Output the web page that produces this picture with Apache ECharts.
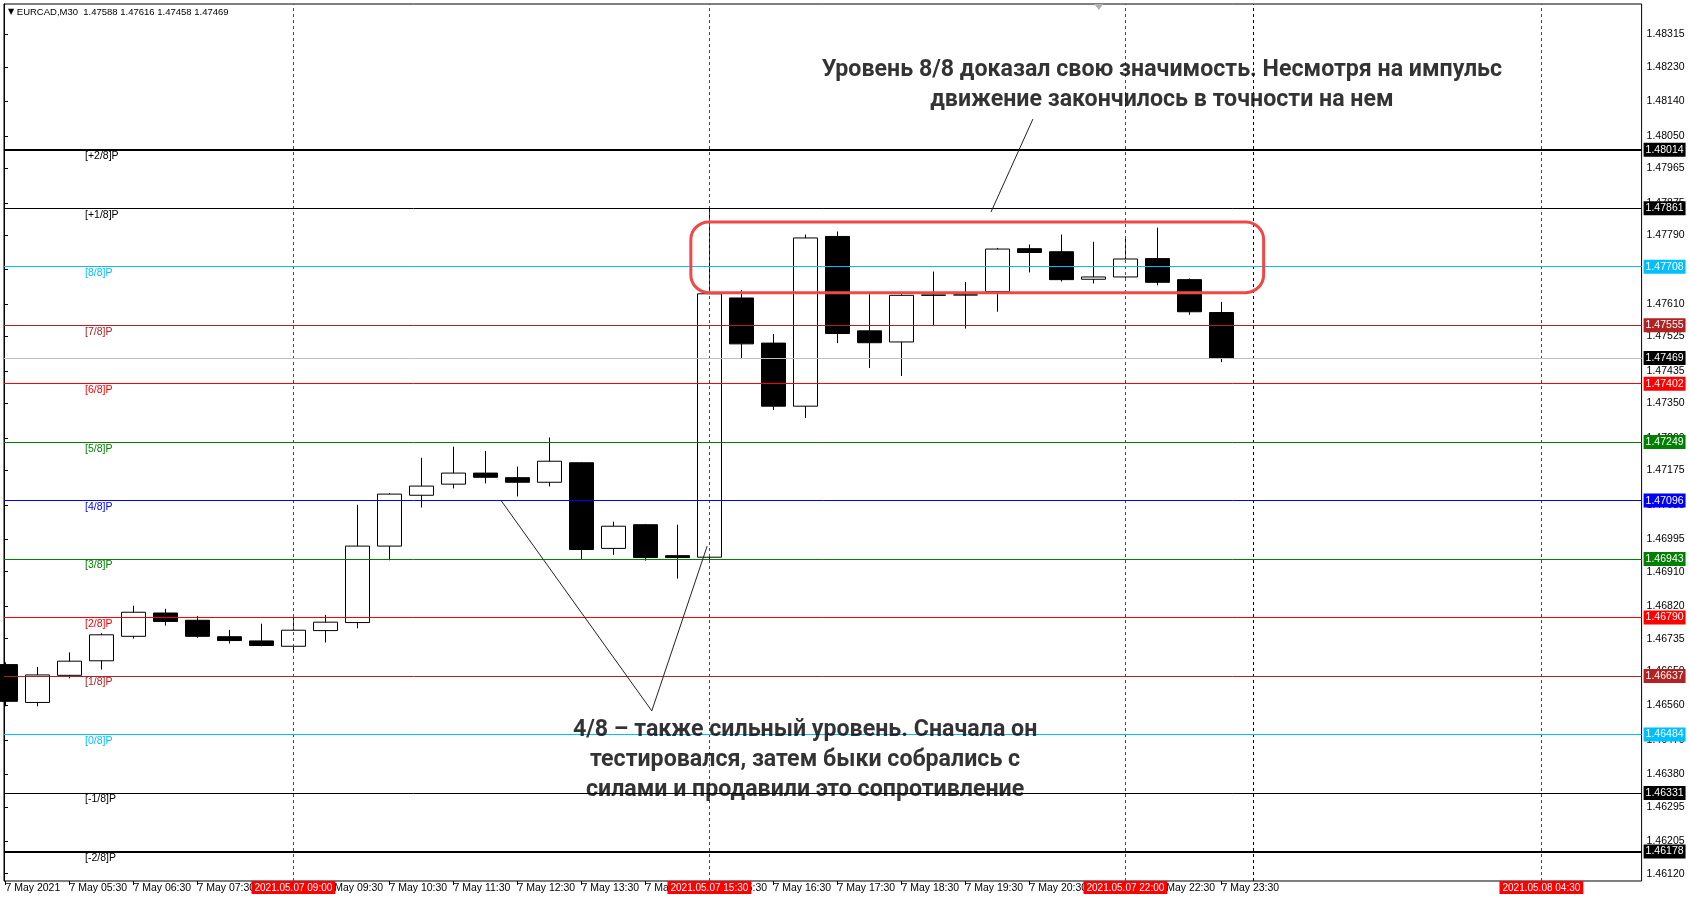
<!DOCTYPE html>
<html><head><meta charset="utf-8">
<script src="https://cdn.jsdelivr.net/npm/echarts@6/dist/echarts.min.js"></script>
<style>html,body{margin:0;padding:0;background:#fff}#c{width:1689px;height:900px}</style>
</head><body><div id="c"></div>
<script>
// ---------------- DATA ----------------
const symbol = 'EURCAD,M30';
const categories = [
 '2021.05.07 04:30','2021.05.07 05:00','2021.05.07 05:30','2021.05.07 06:00','2021.05.07 06:30','2021.05.07 07:00',
 '2021.05.07 07:30','2021.05.07 08:00','2021.05.07 08:30','2021.05.07 09:00','2021.05.07 09:30','2021.05.07 10:00',
 '2021.05.07 10:30','2021.05.07 11:00','2021.05.07 11:30','2021.05.07 12:00','2021.05.07 12:30','2021.05.07 13:00',
 '2021.05.07 13:30','2021.05.07 14:00','2021.05.07 14:30','2021.05.07 15:00','2021.05.07 15:30','2021.05.07 16:00',
 '2021.05.07 16:30','2021.05.07 17:00','2021.05.07 17:30','2021.05.07 18:00','2021.05.07 18:30','2021.05.07 19:00',
 '2021.05.07 19:30','2021.05.07 20:00','2021.05.07 20:30','2021.05.07 21:00','2021.05.07 21:30','2021.05.07 22:00',
 '2021.05.07 22:30','2021.05.07 23:00','2021.05.07 23:30','2021.05.08 00:00','2021.05.08 00:30','2021.05.08 01:00',
 '2021.05.08 01:30','2021.05.08 02:00','2021.05.08 02:30','2021.05.08 03:00','2021.05.08 03:30','2021.05.08 04:00',
 '2021.05.08 04:30','2021.05.08 05:00','2021.05.08 05:30','2021.05.08 06:00'
];
const opens  = [1.46667,1.46568,1.46639,1.46677,1.46741,1.46802,1.46783,1.46740,1.46729,1.46715,1.46756,1.46777,1.46977,
                1.47110,1.47139,1.47168,1.47156,1.47144,1.47195,1.46971,1.47033,1.46952,1.46948,1.47626,1.47508,1.47343,
                1.47787,1.47540,1.47511,1.47633,1.47634,1.47643,1.47755,1.47747,1.47675,1.47681,1.47729,1.47674,1.47588];
const closes = [1.46571,1.46640,1.46676,1.46745,1.46804,1.46780,1.46741,1.46730,1.46717,1.46757,1.46778,1.46977,1.47113,
                1.47134,1.47168,1.47157,1.47144,1.47199,1.46968,1.47029,1.46947,1.46947,1.47637,1.47506,1.47343,1.47783,
                1.47533,1.47509,1.47633,1.47634,1.47634,1.47754,1.47745,1.47674,1.47681,1.47728,1.47667,1.47590,1.47469];
const lows   = [1.46558,1.46558,1.46631,1.46654,1.46735,1.46769,1.46737,1.46722,1.46715,1.46705,1.46725,1.46762,1.46940,
                1.47078,1.47128,1.47141,1.47107,1.47133,1.46943,1.46954,1.46939,1.46892,1.46943,1.47467,1.47333,1.47312,
                1.47508,1.47443,1.47422,1.47554,1.47546,1.47590,1.47693,1.47669,1.47664,1.47672,1.47659,1.47582,1.47458];
const highs  = [1.46673,1.46661,1.46699,1.46749,1.46821,1.46813,1.46794,1.46758,1.46774,1.46794,1.46797,1.47085,1.47116,
                1.47208,1.47237,1.47226,1.47185,1.47261,1.47197,1.47041,1.47035,1.47033,1.47861,1.47647,1.47532,1.47792,
                1.47800,1.47636,1.47636,1.47695,1.47668,1.47757,1.47766,1.47792,1.47773,1.47781,1.47810,1.47677,1.47616];

const yTicks = [1.48315,1.48230,1.48140,1.48050,1.47965,1.47875,1.47790,1.47700,1.47610,1.47525,1.47435,1.47350,1.47260,
                1.47175,1.47085,1.46995,1.46910,1.46820,1.46735,1.46650,1.46560,1.46470,1.46380,1.46295,1.46205,1.46120];
const yMin = 1.46101, yMax = 1.48395;

const levelNames  = ['[+2/8]P','[+1/8]P','[8/8]P','[7/8]P','[6/8]P','[5/8]P','[4/8]P','[3/8]P','[2/8]P','[1/8]P','[0/8]P','[-1/8]P','[-2/8]P'];
const levelPrices = [1.48014,1.47861,1.47708,1.47555,1.47402,1.47249,1.47096,1.46943,1.46790,1.46637,1.46484,1.46331,1.46178];
const lastPrice = closes[closes.length - 1];

const markerTimes = ['2021.05.07 09:00','2021.05.07 15:30','2021.05.07 22:00','2021.05.08 04:30'];
const daySeparator = '2021.05.08 00:00';
const chartShiftAt = 34.17; // bar-index of the chart-shift marker

// annotations (in bar-index / price coordinates)
const noteTop = ['Уровень 8/8 доказал свою значимость. Несмотря на импульс', 'движение закончилось в точности на нем'];
const noteTopAt = [36.14, 1.48183];
const noteBottom = ['4/8 – также сильный уровень. Сначала он', 'тестировался, затем быки собрались с', 'силами и продавили это сопротивление'];
const noteBottomAt = [24.99, 1.46416];
const calloutTop = [[32.11, 1.48094], [30.80, 1.47851]];
const calloutV = [[15.50, 1.47095], [20.20, 1.46546], [21.93, 1.46977]];
const zoneBox = [21.42, 1.47825, 39.32, 1.47640];

// ---------------- STYLE ----------------
const levelColors = ['#000000','#000000','#00BFFF','#B22222','#FF0000','#008000','#0000FF','#008000','#FF0000','#B22222','#00BFFF','#000000','#000000'];
const levelWidths = [2,1,1,1,1,1,1,1,1,1,1,1,2];
const FONT = 'Liberation Sans';
const AXIS_FS = 10.5;

const candleData = opens.map((o, i) => [o, closes[i], lows[i], highs[i]]);
const lastIdx = opens.length - 1;
const showLabel = (i) => i % 2 === 0 && i <= lastIdx;

const boxLabel = (text, bg) => ({ show: true, position: 'end', formatter: text, backgroundColor: bg,
  color: '#fff', padding: [2, 2, 1, 2], fontSize: AXIS_FS, fontFamily: FONT, distance: 2 });
const levelLines = levelPrices.map((p, i) => ({
  yAxis: p,
  lineStyle: { color: levelColors[i], width: levelWidths[i], type: 'solid' },
  label: boxLabel(p.toFixed(5), levelColors[i])
}));
levelLines.push({
  yAxis: lastPrice,
  lineStyle: { color: '#C0C0C0', width: 1, type: 'solid' },
  label: boxLabel(lastPrice.toFixed(5), '#000')
});
const levelTags = levelPrices.map((p, i) => ({
  yAxis: p,
  lineStyle: { color: 'rgba(0,0,0,0)', width: 0 },
  label: { show: true, position: 'insideStartBottom', formatter: levelNames[i], color: levelColors[i],
           fontSize: AXIS_FS, fontFamily: FONT, distance: [81, 1] }
}));
const vLines = markerTimes.map(t => ({
  xAxis: t,
  lineStyle: { color: '#FF0000', width: 1, type: [3, 3] },
  label: { show: true, position: 'start', formatter: t, backgroundColor: '#FF0000', color: '#fff',
           fontSize: 10, fontFamily: FONT, padding: [2, 3, 1, 3], distance: 0 }
}));
vLines.push({ xAxis: daySeparator, lineStyle: { color: '#000', width: 1, type: [3, 3] }, label: { show: false } });

const noteLabel = {
  show: true, position: 'inside', align: 'center', verticalAlign: 'middle',
  fontSize: 23.2, lineHeight: 30, fontWeight: 'bold', fontFamily: 'Roboto', color: '#000'
};

const chart = echarts.init(document.getElementById('c'), null, { renderer: 'canvas' });
chart.setOption({
  animation: false,
  backgroundColor: '#fff',
  title: {
    left: 8, top: 7, padding: 0,
    text: '{t|▼} ' + symbol + '  ' + [opens[lastIdx], highs[lastIdx], lows[lastIdx], closes[lastIdx]].map(v => v.toFixed(5)).join(' '),
    textStyle: { fontSize: 9.5, fontWeight: 'normal', color: '#000', fontFamily: FONT,
                 rich: { t: { fontSize: 8, fontFamily: 'DejaVu Sans', color: '#000' } } }
  },
  grid: [
    { left: 4, right: 47.4, top: 4, bottom: 19, show: true, borderColor: '#000', borderWidth: 1, backgroundColor: '#fff' },
    { left: 5.4, right: 51.6, top: 4, bottom: 19 }
  ],
  xAxis: [
    { gridIndex: 0, type: 'value', min: 0, max: 1, show: false },
    { gridIndex: 1, type: 'category', data: categories, boundaryGap: false,
      axisLine: { show: false },
      axisTick: { show: true, interval: (i) => showLabel(i), length: 4, lineStyle: { color: '#000' } },
      axisLabel: { interval: (i) => showLabel(i), align: 'left', margin: 2, fontSize: AXIS_FS, fontFamily: FONT, color: '#000',
        formatter: (v, i) => {
          const d = v.split(' ')[0].split('.'); const t = v.split(' ')[1];
          return i === 0 ? (+d[2]) + ' May ' + d[0] : (+d[2]) + ' May ' + t;
        } },
      splitLine: { show: false } },
    { gridIndex: 1, type: 'value', min: 0, max: categories.length - 1, show: false }
  ],
  yAxis: [
    { gridIndex: 0, type: 'value', position: 'right', min: yMin, max: yMax,
      axisLine: { show: true, lineStyle: { color: '#000', width: 1 } },
      axisTick: { show: true, length: 4, customValues: yTicks, lineStyle: { color: '#000' } },
      axisLabel: { customValues: yTicks, formatter: (v) => v.toFixed(5), fontSize: AXIS_FS, fontFamily: FONT, color: '#000', margin: 5 },
      splitLine: { show: false } },
    { gridIndex: 1, type: 'value', min: yMin, max: yMax, show: false, splitLine: { show: false } }
  ],
  series: [
    { type: 'line', xAxisIndex: 1, yAxisIndex: 1, data: [], z: 1, clip: false, silent: true,
      markLine: { symbol: ['none', 'none'], precision: 5, silent: true, animation: false, data: vLines } },
    { type: 'candlestick', xAxisIndex: 1, yAxisIndex: 1, data: candleData, barWidth: 24, z: 2,
      itemStyle: { color: '#fff', color0: '#000', borderColor: '#000', borderColor0: '#000', borderColorDoji: '#000', borderWidth: 1 } },
    { type: 'line', xAxisIndex: 0, yAxisIndex: 0, data: [], z: 3, clip: false, silent: true,
      markLine: { symbol: ['none', 'none'], precision: 5, silent: true, animation: false, data: levelLines } },
    { type: 'line', xAxisIndex: 0, yAxisIndex: 0, data: [], z: 4, clip: false, silent: true,
      markLine: { symbol: ['none', 'none'], precision: 5, silent: true, animation: false, data: levelTags } },
    { type: 'custom', xAxisIndex: 2, yAxisIndex: 1, data: [zoneBox], z: 8, clip: false, silent: true,
      renderItem: (params, api) => {
        const p0 = api.coord([api.value(0), api.value(1)]);
        const p1 = api.coord([api.value(2), api.value(3)]);
        return { type: 'rect', shape: { x: p0[0], y: p0[1], width: p1[0] - p0[0], height: p1[1] - p0[1], r: 18 },
                 style: { fill: 'none', stroke: '#F04848', lineWidth: 3 } };
      } },
    { type: 'line', xAxisIndex: 2, yAxisIndex: 1, data: calloutTop, symbol: 'none', z: 8, silent: true,
      lineStyle: { color: '#222', width: 1 },
      markPoint: { silent: true, animation: false, symbol: 'triangle', symbolRotate: 180, symbolSize: [9, 6], symbolOffset: [0, 3],
        itemStyle: { color: '#B0B0B0' }, label: { show: false }, data: [{ coord: [chartShiftAt, yMax] }] } },
    { type: 'line', xAxisIndex: 2, yAxisIndex: 1, data: calloutV, symbol: 'none', z: 8, silent: true,
      lineStyle: { color: '#222', width: 1 } },
    { type: 'scatter', xAxisIndex: 2, yAxisIndex: 1, symbolSize: 0, z: 9, silent: true,
      data: [{ value: noteTopAt, name: noteTop.join('\n') }, { value: noteBottomAt, name: noteBottom.join('\n') }],
      label: Object.assign({ formatter: (p) => p.name }, noteLabel) }
  ]
});
</script></body></html>
